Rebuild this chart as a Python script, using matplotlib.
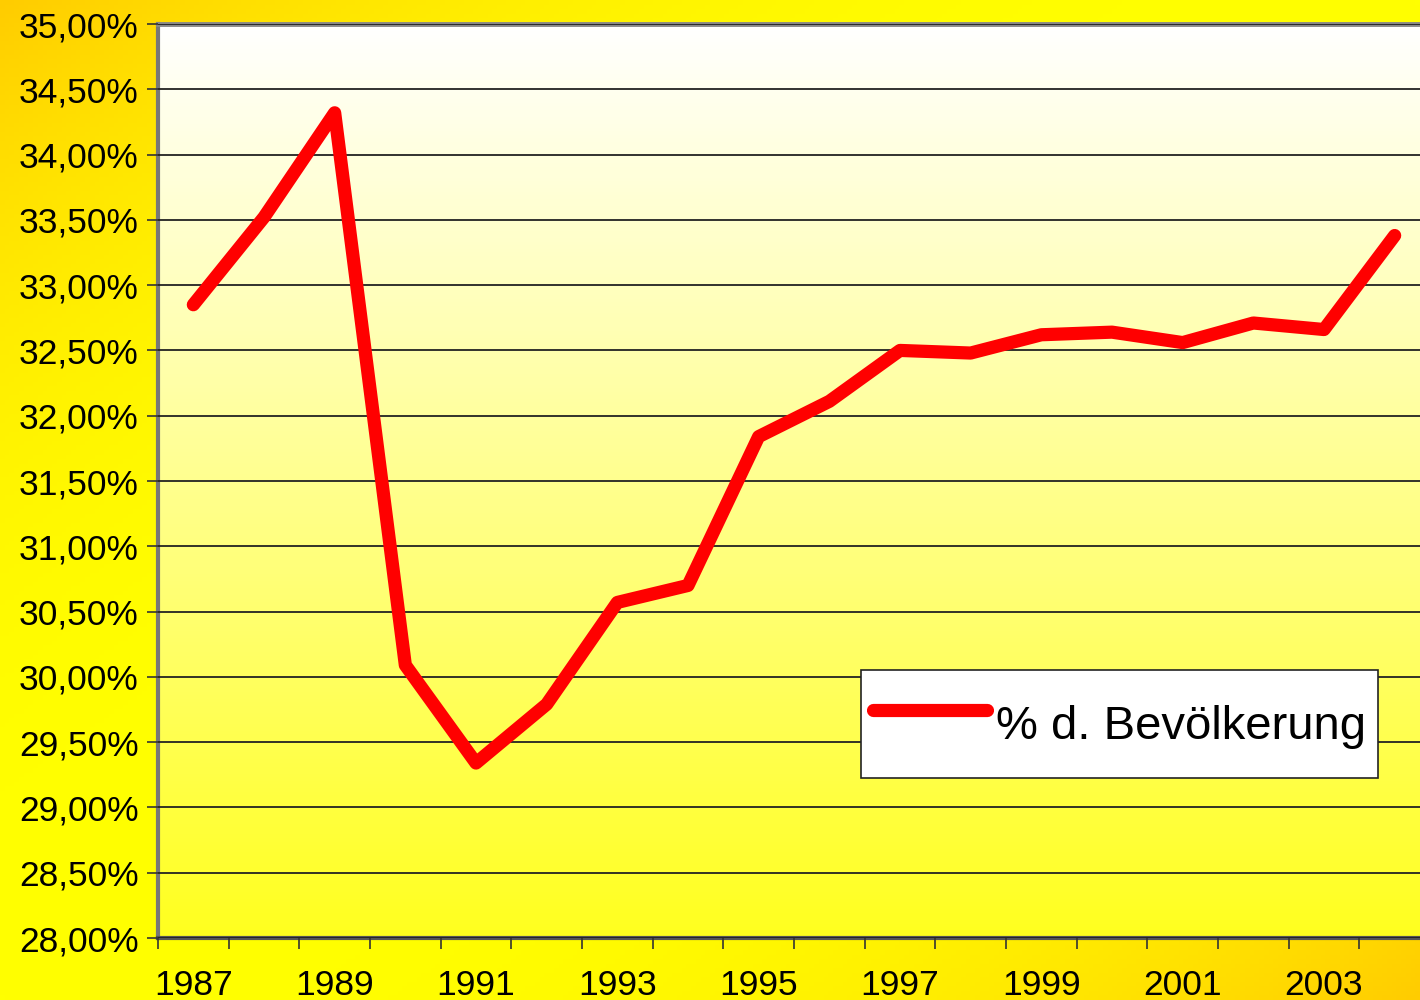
import numpy as np
import matplotlib
matplotlib.use("Agg")
import matplotlib.pyplot as plt
from matplotlib.ticker import FuncFormatter, FixedLocator

years = list(range(1987, 2005))
values = [32.85, 33.52, 34.32, 30.09, 29.34, 29.79, 30.57, 30.70, 31.84, 32.11,
          32.50, 32.48, 32.62, 32.64, 32.56, 32.71, 32.66, 33.38]
series_name = "% d. Bevölkerung"
year_labels = [str(y) if (y - 1987) % 2 == 0 else "" for y in years]

plt.rcParams['font.family'] = ['Liberation Sans', 'DejaVu Sans']

W, H = 1420, 1000
fig = plt.figure(figsize=(W / 100, H / 100), dpi=100)

# figure background gradient: yellow along TR-BL diagonal, orange at TL and BR corners
bg = fig.add_axes([0, 0, 1, 1], zorder=-10)
xx, yy = np.meshgrid(np.linspace(0, 1, 300), np.linspace(0, 1, 220))
t = np.abs(xx + yy - 1.0)
t = np.clip(t, 0, 1) ** 2.5
c_yel = np.array([1.0, 1.0, 0.0])
c_org = np.array([1.0, 0.80, 0.0])
img = c_yel[None, None, :] * (1 - t[..., None]) + c_org[None, None, :] * t[..., None]
bg.imshow(img, extent=[0, 1, 0, 1], aspect='auto', origin='upper')
bg.axis('off')

left, right = 158 / W, 1430 / W
top, bottom = 1 - 24 / H, 1 - 938 / H
ax = fig.add_axes([left, bottom, right - left, top - bottom])
ax.patch.set_visible(False)

n = len(years)
x = np.arange(n)

# plot area gradient: white top to yellow bottom
grad = np.linspace(0, 1, 256)[:, None]
pimg = np.ones((256, 2, 3))
pimg[..., 2] = 1 - grad * 0.88
ax.imshow(pimg, extent=[-0.5, n - 0.5, 28, 35], aspect='auto', origin='upper', zorder=0)
ax.set_xlim(-0.5, n - 0.5)
ax.set_ylim(28, 35)

ax.yaxis.set_major_locator(FixedLocator(np.arange(28, 35.01, 0.5)))
ax.yaxis.set_major_formatter(FuncFormatter(lambda v, p: f"{v:.2f}".replace('.', ',') + "%"))
ax.grid(axis='y', color='#222222', linewidth=1.3, zorder=1)
ax.set_axisbelow(False)

ax.plot(x, values, color='#FF0000', linewidth=9.5, solid_capstyle='round',
        solid_joinstyle='round', zorder=3, label=series_name)

ax.set_xticks(np.append(x - 0.5, n - 0.5))
ax.set_xticklabels([])
ax.set_xticks(x, minor=True)
ax.set_xticklabels(year_labels, minor=True)
ax.tick_params(axis='x', which='minor', length=0, pad=22, labelsize=25.5)
ax.tick_params(axis='x', which='major', direction='out', length=8, width=1.2, color='#333333')
ax.tick_params(axis='y', direction='out', length=8, width=1.2, color='#333333', labelsize=25.5, pad=6)

ax.spines['right'].set_visible(False)
ax.spines['top'].set_color('#888888')
ax.spines['top'].set_linewidth(3.5)
ax.spines['left'].set_color('#777777')
ax.spines['left'].set_linewidth(3)
ax.spines['bottom'].set_color('#555555')
ax.spines['bottom'].set_linewidth(3)

leg = ax.legend(loc='upper left', bbox_to_anchor=(861 / W, 1 - 670 / H),
                bbox_transform=fig.transFigure, fontsize=34, frameon=True, fancybox=False,
                edgecolor='#222222', facecolor='white', framealpha=1,
                handlelength=2.4, handleheight=2.35, handletextpad=0.2,
                borderpad=0.26, borderaxespad=0)
leg.get_frame().set_linewidth(1.2)

fig.savefig("out.png", dpi=100)
